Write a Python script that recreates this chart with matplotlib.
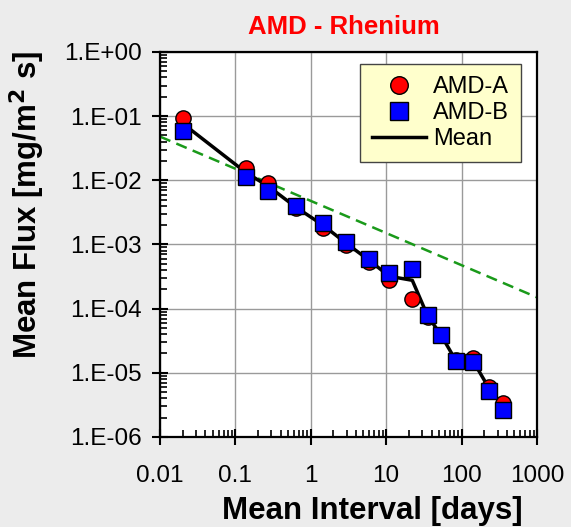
import numpy as np
import matplotlib
matplotlib.use("Agg")
import matplotlib.pyplot as plt
from matplotlib.ticker import LogLocator, FuncFormatter, NullFormatter

plt.rcParams['font.family'] = ['Liberation Sans', 'DejaVu Sans']

# Data
interval = [0.02, 0.137, 0.274, 0.63, 1.45, 2.93, 5.97, 11.0, 22.2, 35.5, 53.3, 83.3, 140, 233, 357]
flux_a = [0.095, 0.0154, 0.0092, 0.00367, 0.0018, 0.00099, 0.00054, 0.000282, 0.000141,
          7.4e-5, 3.9e-5, 1.6e-5, 1.7e-5, 6.1e-6, 3.35e-6]
flux_b = [0.0588, 0.0112, 0.0069, 0.0040, 0.0022, 0.00111, 0.00059, 0.000357, 0.000412,
          8.0e-5, 3.9e-5, 1.55e-5, 1.45e-5, 5.2e-6, 2.6e-6]
trend_x = [0.01, 1000]
trend_y = [0.048, 1.5e-4]

flux_mean = [(a + b) / 2 for a, b in zip(flux_a, flux_b)]

fig = plt.figure(figsize=(5.71, 5.27), dpi=100)
fig.patch.set_facecolor('#ececec')
ax = fig.add_axes([0.2802, 0.1708, 0.6602, 0.7306])
ax.set_facecolor('white')

ax.set_xscale('log')
ax.set_yscale('log')
ax.set_xlim(0.01, 1000)
ax.set_ylim(1e-6, 1)

ax.grid(True, which='major', color='#9a9a9a', linewidth=1.0)
ax.set_axisbelow(True)

ax.plot(trend_x, trend_y, color='#1a9a1a', linestyle=(0, (4.5, 2.6)), linewidth=1.8, zorder=2)
ax.plot(interval, flux_mean, color='black', linewidth=2.5, zorder=3, label='Mean')
ax.plot(interval, flux_a, linestyle='none', marker='o', markersize=11,
        markerfacecolor='#ff0000', markeredgecolor='black', markeredgewidth=1.0, zorder=4, label='AMD-A')
ax.plot(interval, flux_b, linestyle='none', marker='s', markersize=11,
        markerfacecolor='#0000ff', markeredgecolor='black', markeredgewidth=1.0, zorder=5, label='AMD-B')

ax.xaxis.set_major_locator(LogLocator(base=10, numticks=10))
ax.yaxis.set_major_locator(LogLocator(base=10, numticks=10))
ax.xaxis.set_minor_locator(LogLocator(base=10, subs=np.arange(2, 10), numticks=20))
ax.yaxis.set_minor_locator(LogLocator(base=10, subs=np.arange(2, 10), numticks=20))
ax.xaxis.set_minor_formatter(NullFormatter())
ax.yaxis.set_minor_formatter(NullFormatter())

def yfmt(v, pos):
    e = int(round(np.log10(v)))
    return "1.E%s%02d" % ('+' if e >= 0 else '-', abs(e))

def xfmt(v, pos):
    e = int(round(np.log10(v)))
    return ("%g" % v) if e < 0 else str(int(round(v)))

ax.yaxis.set_major_formatter(FuncFormatter(yfmt))
ax.xaxis.set_major_formatter(FuncFormatter(xfmt))

ax.tick_params(which='major', direction='inout', length=12, width=1.5, labelsize=17.5,
               top=False, right=False)
ax.tick_params(which='minor', direction='in', length=5, width=1.2, top=False, right=False)
ax.tick_params(axis='y', which='major', pad=7)
ax.tick_params(axis='x', which='major', pad=14)

for s in ax.spines.values():
    s.set_linewidth(1.6)

ax.set_xlabel('Mean Interval [days]', fontsize=22.5, fontweight='bold')
ax.xaxis.set_label_coords(0.562, -0.153)
ax.set_ylabel('Mean Flux [mg/m$^\\mathbf{2}$ s]', fontsize=22.5, fontweight='bold')
ax.yaxis.set_label_coords(-0.30, 0.603)
ax.set_title('AMD - Rhenium', color='#ff0000', fontsize=18.5, fontweight='bold', pad=13, x=0.487)

handles, labels = ax.get_legend_handles_labels()
order = [1, 2, 0]
leg = ax.legend([handles[i] for i in order], [labels[i] for i in order],
                loc='upper right', bbox_to_anchor=(0.9576, 0.9688), borderaxespad=0,
                fontsize=17, frameon=True, fancybox=False, facecolor='#ffffcc',
                edgecolor='#444444', framealpha=1, handlelength=2.3, handletextpad=0.3,
                borderpad=0.5, labelspacing=0.17, markerscale=1.15)
leg.get_frame().set_linewidth(1.0)

fig.savefig('out.png', dpi=100, facecolor=fig.get_facecolor())
